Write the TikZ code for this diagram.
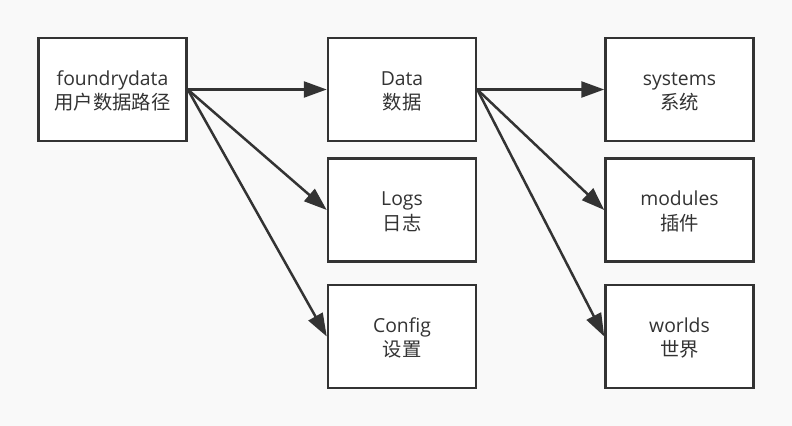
\documentclass[tikz,border=0pt]{standalone}
\usepackage{fontspec}
\setmainfont{Open Sans}
\newfontfamily\cjk{Noto Sans CJK SC}
\usetikzlibrary{arrows.meta, positioning}
\definecolor{ink}{HTML}{333333}
\definecolor{paper}{HTML}{F9F9F9}
% Folder label: name over its Chinese title
\newcommand\folder[2]{\begin{tabular}{@{}c@{}}\rule{0pt}{13.5pt}#1\\{\cjk #2}\end{tabular}}

\begin{document}
\begin{tikzpicture}[
  box/.style={draw=ink, fill=white, line width=0.05cm, minimum width=2.96cm,
    minimum height=2.06cm, inner sep=0pt, text=ink,
    font=\fontsize{11}{13.9}\selectfont},
  link/.style={draw=ink, line width=0.05cm,
    -{Triangle[length=0.46cm, width=0.32cm]}}
]
  % Background and page size
  \fill[paper] (0,0) rectangle (15.84,-8.52);
  \useasboundingbox (0,0) rectangle (15.84,-8.52);

  % User data folder
  \node[box](root) at (2.25,-1.79){\folder{foundrydata}{用户数据路径}};

  % Its three sub folders
  \node[box, right=2.78cm of root](data){\folder{Data}{数据}};
  \node[box, below=0.3cm of data](logs){\folder{Logs}{日志}};
  \node[box, below=0.42cm of logs](config){\folder{Config}{设置}};

  % Folders inside Data
  \node[box, right=2.54cm of data](systems){\folder{systems}{系统}};
  \node[box, below=0.3cm of systems](modules){\folder{modules}{插件}};
  \node[box, below=0.42cm of modules](worlds){\folder{worlds}{世界}};

  % Connect the root to the sub folders
  \draw[link] (root.east) -- (data.west);
  \draw[link] (root.east) -- (logs.west);
  \draw[link] (root.east) -- (config.west);

  % Connect Data to its contents
  \draw[link] (data.east) -- (systems.west);
  \draw[link] (data.east) -- (modules.west);
  \draw[link] (data.east) -- (worlds.west);

\end{tikzpicture}
\end{document}
